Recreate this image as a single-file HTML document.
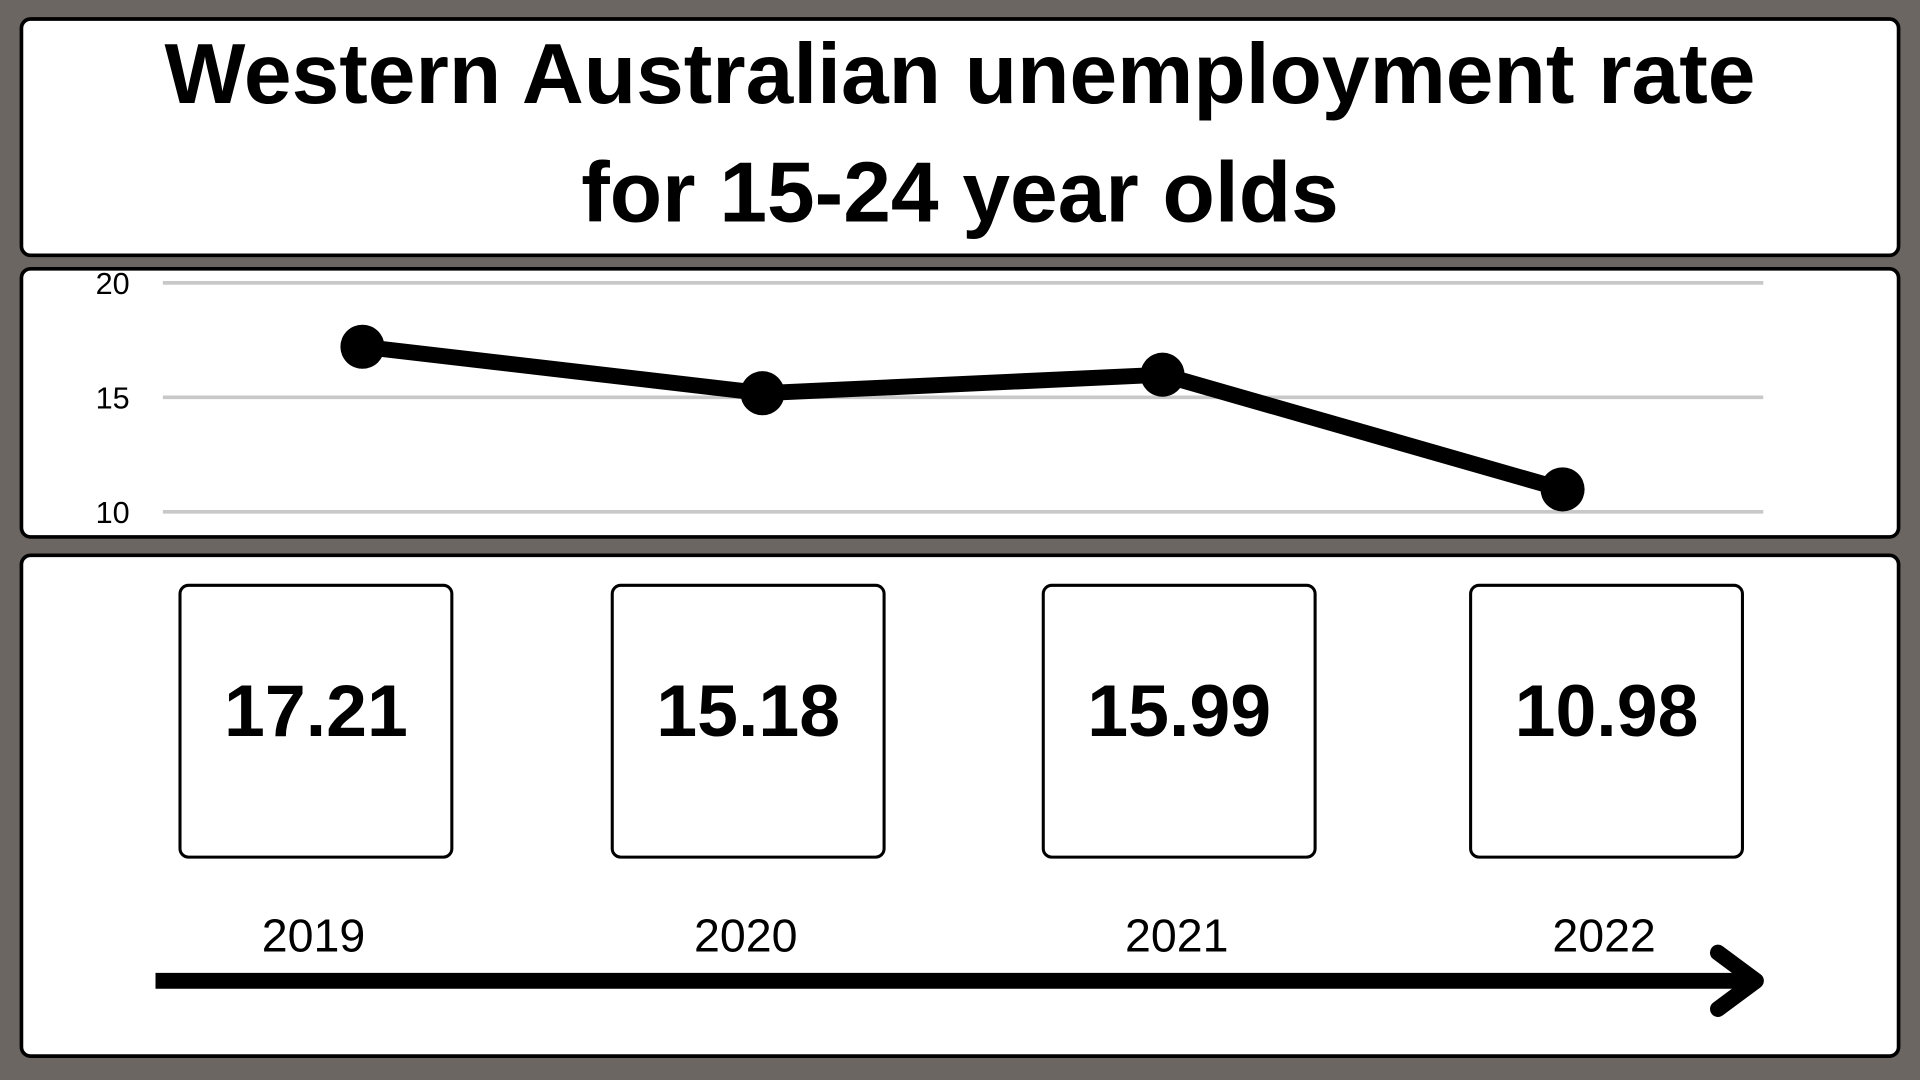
<!DOCTYPE html>
<html><head><meta charset="utf-8"><style>
html,body{margin:0;padding:0;width:1920px;height:1080px;overflow:hidden;background:#6b6661;}
#wrap{position:absolute;left:0;top:0;width:1568px;height:882px;transform:scale(1.22449);transform-origin:0 0;font-family:"Liberation Sans",Arial,sans-serif;}
.panel{position:absolute;background:#fff;border:3px solid #000;border-radius:9px;box-sizing:border-box;}
</style></head><body>
<div id="wrap">
<div class="panel" style="left:16px;top:14px;width:1536px;height:196px;">
<div style="position:absolute;left:-20px;right:-20px;top:-5px;text-align:center;font-weight:bold;font-size:70px;line-height:97px;color:#000;white-space:nowrap;">Western Australian unemployment rate<br>for 15-24 year olds</div>
</div>
<div class="panel" style="left:16px;top:218px;width:1536px;height:222px;"></div>
<div class="panel" style="left:16px;top:452px;width:1536px;height:412px;"></div>
<svg id="chart" width="1568" height="882" style="position:absolute;left:0;top:0;"></svg>
</div>
<script>
const years=["2019","2020","2021","2022"];
const values=[17.21,15.18,15.99,10.98];
const valueLabels=["17.21","15.18","15.99","10.98"];
const yTicks=[10,15,20];
const NS="http://www.w3.org/2000/svg";
const svg=document.getElementById('chart');
function xPos(i){return 296+i*326.7;}
function yPos(v){return 418-(v-10)*18.7;}
function mk(t,a,p){const e=document.createElementNS(NS,t);for(const k in a)e.setAttribute(k,a[k]);(p||svg).appendChild(e);return e;}
yTicks.forEach(t=>{
  const l=mk('line',{x1:133,x2:1440,y1:yPos(t),y2:yPos(t),stroke:'#c8c8c8','stroke-width':3});
  
  
  const tx=mk('text',{x:92,y:yPos(t)+9,'text-anchor':'middle','font-size':25,fill:'#000','font-family':'Liberation Sans, sans-serif'});
  tx.textContent=t;
  
  
});
const pts=values.map((v,i)=>xPos(i)+','+yPos(v)).join(' ');
const pl=mk('polyline',{points:pts,fill:'none',stroke:'#000','stroke-width':13,'stroke-linejoin':'round'});


values.forEach((v,i)=>{
  const c=mk('circle',{cx:xPos(i),cy:yPos(v),r:18,fill:'#000'});
  
  
});
const boxX=[147,500,852,1201];
years.forEach((y,i)=>{
  const bx=boxX[i];
  const r=mk('rect',{x:bx,y:478,width:222,height:222,rx:7,fill:'#fff',stroke:'#000','stroke-width':2.5});
  
  
  const t=mk('text',{x:bx+111,y:601,'text-anchor':'middle','font-size':60,'font-weight':'bold',fill:'#000','font-family':'Liberation Sans, sans-serif'});
  t.textContent=valueLabels[i];
  
  
  const yl=mk('text',{x:bx+109,y:777,'text-anchor':'middle','font-size':38,fill:'#000','font-family':'Liberation Sans, sans-serif'});
  yl.textContent=y;
  
  
});
const ar=mk('line',{x1:127,x2:1432,y1:801,y2:801,stroke:'#000','stroke-width':13});


const ah=mk('polyline',{points:'1403,778 1434,801 1403,824',fill:'none',stroke:'#000','stroke-width':13,'stroke-linecap':'round','stroke-linejoin':'round'});


</script>
</body></html>
